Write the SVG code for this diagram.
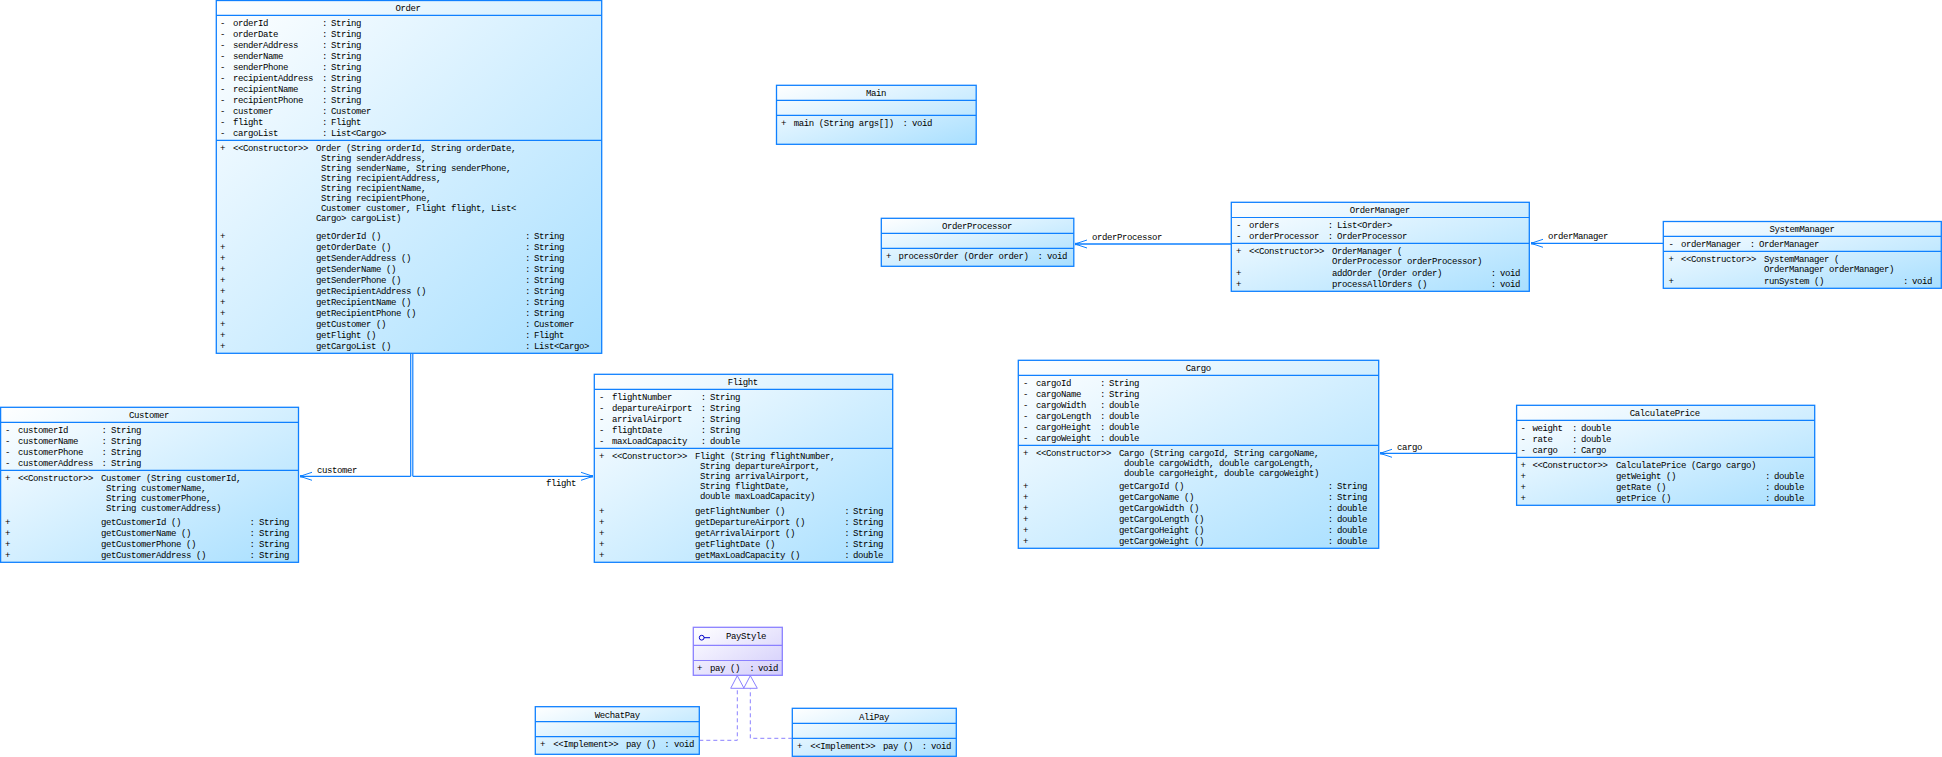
<svg xmlns="http://www.w3.org/2000/svg" width="1942" height="757" viewBox="0 0 1942 757">
<style>
.t{font-family:"Liberation Mono","DejaVu Sans Mono",monospace;font-size:9px;letter-spacing:-.4px;fill:#000;white-space:pre}
.c{text-anchor:middle}
.b{fill:url(#g);stroke:#0f80ff;stroke-width:1.3}
.d{stroke:#0f80ff;stroke-width:1.2;fill:none}
.ib{fill:url(#gi);stroke:#8a80ff;stroke-width:1.3}
.id{stroke:#8a80ff;stroke-width:1.2;fill:none}
.a{stroke:#0f80ff;stroke-width:1.3;fill:none;marker-end:url(#open)}
.r{stroke:#8a80ff;stroke-width:1;stroke-dasharray:4 3;fill:none}
.h{stroke:#8a80ff;stroke-width:1;fill:#fff}
</style>
<defs>
<linearGradient id="g" x1="0" y1="0" x2="1" y2="1"><stop offset="0" stop-color="#fff"/><stop offset="1" stop-color="#a8dfff"/></linearGradient>
<linearGradient id="gi" x1="0" y1="0" x2="1" y2="1"><stop offset="0" stop-color="#fff"/><stop offset="1" stop-color="#d2ccfb"/></linearGradient>
<marker id="open" markerUnits="userSpaceOnUse" markerWidth="16" markerHeight="12" refX="13" refY="6" orient="auto"><path d="M1,2 L13,6 L1,10" fill="none" stroke="#0f80ff" stroke-width="1"/><rect x="9.5" y="4.8" width="3.5" height="2.4" fill="#0f80ff"/></marker>
</defs>
<rect width="1942" height="757" fill="#fff"/>

<g id="connectors">
<path class="d" d="M410.7 353.5V476.3"/>
<path class="d" d="M412.8 353.5V476.3"/>
<path class="a" d="M410.7 476.3H300"/>
<path class="a" d="M412.8 476.3H593"/>
<text class="t" x="317" y="473">customer</text>
<text class="t" x="546" y="486">flight</text>
<path class="a" d="M1231.3 244H1075"/>
<text class="t" x="1092" y="240">orderProcessor</text>
<path class="a" d="M1663.3 243.3H1531"/>
<text class="t" x="1548" y="239">orderManager</text>
<path class="a" d="M1516.6 453.3H1380"/>
<text class="t" x="1397" y="450">cargo</text>
<path class="r" d="M699.3 740.3H737.3V688.3"/>
<path class="r" d="M792.3 738.3H750.3V688.3"/>
<path class="h" d="M737.3 675.7L730.7 688.3H744Z"/>
<path class="h" d="M750.3 675.7L743.7 688.3H757.3Z"/>
</g>

<g id="Order">
<rect class="b" x="216.3" y="0.5" width="385.4" height="352.8"/>
<path class="d" d="M216.3 15.3H601.7M216.3 140.3H601.7"/>
<text class="t c" x="408" y="11">Order</text>
<text class="t" y="26"><tspan x="220">-</tspan><tspan x="233">orderId</tspan><tspan x="322">:</tspan><tspan x="331">String</tspan></text>
<text class="t" y="37"><tspan x="220">-</tspan><tspan x="233">orderDate</tspan><tspan x="322">:</tspan><tspan x="331">String</tspan></text>
<text class="t" y="48"><tspan x="220">-</tspan><tspan x="233">senderAddress</tspan><tspan x="322">:</tspan><tspan x="331">String</tspan></text>
<text class="t" y="59"><tspan x="220">-</tspan><tspan x="233">senderName</tspan><tspan x="322">:</tspan><tspan x="331">String</tspan></text>
<text class="t" y="70"><tspan x="220">-</tspan><tspan x="233">senderPhone</tspan><tspan x="322">:</tspan><tspan x="331">String</tspan></text>
<text class="t" y="81"><tspan x="220">-</tspan><tspan x="233">recipientAddress</tspan><tspan x="322">:</tspan><tspan x="331">String</tspan></text>
<text class="t" y="92"><tspan x="220">-</tspan><tspan x="233">recipientName</tspan><tspan x="322">:</tspan><tspan x="331">String</tspan></text>
<text class="t" y="103"><tspan x="220">-</tspan><tspan x="233">recipientPhone</tspan><tspan x="322">:</tspan><tspan x="331">String</tspan></text>
<text class="t" y="114"><tspan x="220">-</tspan><tspan x="233">customer</tspan><tspan x="322">:</tspan><tspan x="331">Customer</tspan></text>
<text class="t" y="125"><tspan x="220">-</tspan><tspan x="233">flight</tspan><tspan x="322">:</tspan><tspan x="331">Flight</tspan></text>
<text class="t" y="136"><tspan x="220">-</tspan><tspan x="233">cargoList</tspan><tspan x="322">:</tspan><tspan x="331">List&lt;Cargo&gt;</tspan></text>
<text class="t" y="151"><tspan x="220">+</tspan><tspan x="233">&lt;&lt;Constructor&gt;&gt;</tspan><tspan x="316">Order (String orderId, String orderDate,</tspan></text>
<text class="t" x="321" y="161">String senderAddress,</text>
<text class="t" x="321" y="171">String senderName, String senderPhone,</text>
<text class="t" x="321" y="181">String recipientAddress,</text>
<text class="t" x="321" y="191">String recipientName,</text>
<text class="t" x="321" y="201">String recipientPhone,</text>
<text class="t" x="321" y="211">Customer customer, Flight flight, List&lt;</text>
<text class="t" x="316" y="221">Cargo&gt; cargoList)</text>
<text class="t" y="239"><tspan x="220">+</tspan><tspan x="316">getOrderId ()</tspan><tspan x="525">:</tspan><tspan x="534">String</tspan></text>
<text class="t" y="250"><tspan x="220">+</tspan><tspan x="316">getOrderDate ()</tspan><tspan x="525">:</tspan><tspan x="534">String</tspan></text>
<text class="t" y="261"><tspan x="220">+</tspan><tspan x="316">getSenderAddress ()</tspan><tspan x="525">:</tspan><tspan x="534">String</tspan></text>
<text class="t" y="272"><tspan x="220">+</tspan><tspan x="316">getSenderName ()</tspan><tspan x="525">:</tspan><tspan x="534">String</tspan></text>
<text class="t" y="283"><tspan x="220">+</tspan><tspan x="316">getSenderPhone ()</tspan><tspan x="525">:</tspan><tspan x="534">String</tspan></text>
<text class="t" y="294"><tspan x="220">+</tspan><tspan x="316">getRecipientAddress ()</tspan><tspan x="525">:</tspan><tspan x="534">String</tspan></text>
<text class="t" y="305"><tspan x="220">+</tspan><tspan x="316">getRecipientName ()</tspan><tspan x="525">:</tspan><tspan x="534">String</tspan></text>
<text class="t" y="316"><tspan x="220">+</tspan><tspan x="316">getRecipientPhone ()</tspan><tspan x="525">:</tspan><tspan x="534">String</tspan></text>
<text class="t" y="327"><tspan x="220">+</tspan><tspan x="316">getCustomer ()</tspan><tspan x="525">:</tspan><tspan x="534">Customer</tspan></text>
<text class="t" y="338"><tspan x="220">+</tspan><tspan x="316">getFlight ()</tspan><tspan x="525">:</tspan><tspan x="534">Flight</tspan></text>
<text class="t" y="349"><tspan x="220">+</tspan><tspan x="316">getCargoList ()</tspan><tspan x="525">:</tspan><tspan x="534">List&lt;Cargo&gt;</tspan></text>
</g>

<g id="Customer">
<rect class="b" x="0.6" y="407.3" width="297.9" height="155"/>
<path class="d" d="M0.6 422.3H298.5M0.6 470.3H298.5"/>
<text class="t c" x="149" y="418">Customer</text>
<text class="t" y="433"><tspan x="5">-</tspan><tspan x="18">customerId</tspan><tspan x="101.5">:</tspan><tspan x="111">String</tspan></text>
<text class="t" y="444"><tspan x="5">-</tspan><tspan x="18">customerName</tspan><tspan x="101.5">:</tspan><tspan x="111">String</tspan></text>
<text class="t" y="455"><tspan x="5">-</tspan><tspan x="18">customerPhone</tspan><tspan x="101.5">:</tspan><tspan x="111">String</tspan></text>
<text class="t" y="466"><tspan x="5">-</tspan><tspan x="18">customerAddress</tspan><tspan x="101.5">:</tspan><tspan x="111">String</tspan></text>
<text class="t" y="481"><tspan x="5">+</tspan><tspan x="18">&lt;&lt;Constructor&gt;&gt;</tspan><tspan x="101">Customer (String customerId,</tspan></text>
<text class="t" x="106" y="491">String customerName,</text>
<text class="t" x="106" y="501">String customerPhone,</text>
<text class="t" x="106" y="511">String customerAddress)</text>
<text class="t" y="525"><tspan x="5">+</tspan><tspan x="101">getCustomerId ()</tspan><tspan x="249.5">:</tspan><tspan x="259">String</tspan></text>
<text class="t" y="536"><tspan x="5">+</tspan><tspan x="101">getCustomerName ()</tspan><tspan x="249.5">:</tspan><tspan x="259">String</tspan></text>
<text class="t" y="547"><tspan x="5">+</tspan><tspan x="101">getCustomerPhone ()</tspan><tspan x="249.5">:</tspan><tspan x="259">String</tspan></text>
<text class="t" y="558"><tspan x="5">+</tspan><tspan x="101">getCustomerAddress ()</tspan><tspan x="249.5">:</tspan><tspan x="259">String</tspan></text>
</g>

<g id="Flight">
<rect class="b" x="594.3" y="374.3" width="298.4" height="188"/>
<path class="d" d="M594.3 389.3H892.7M594.3 448.3H892.7"/>
<text class="t c" x="742.7" y="385">Flight</text>
<text class="t" y="400"><tspan x="599">-</tspan><tspan x="612">flightNumber</tspan><tspan x="700.7">:</tspan><tspan x="710">String</tspan></text>
<text class="t" y="411"><tspan x="599">-</tspan><tspan x="612">departureAirport</tspan><tspan x="700.7">:</tspan><tspan x="710">String</tspan></text>
<text class="t" y="422"><tspan x="599">-</tspan><tspan x="612">arrivalAirport</tspan><tspan x="700.7">:</tspan><tspan x="710">String</tspan></text>
<text class="t" y="433"><tspan x="599">-</tspan><tspan x="612">flightDate</tspan><tspan x="700.7">:</tspan><tspan x="710">String</tspan></text>
<text class="t" y="444"><tspan x="599">-</tspan><tspan x="612">maxLoadCapacity</tspan><tspan x="700.7">:</tspan><tspan x="710">double</tspan></text>
<text class="t" y="459"><tspan x="599">+</tspan><tspan x="612">&lt;&lt;Constructor&gt;&gt;</tspan><tspan x="695">Flight (String flightNumber,</tspan></text>
<text class="t" x="700" y="469">String departureAirport,</text>
<text class="t" x="700" y="479">String arrivalAirport,</text>
<text class="t" x="700" y="489">String flightDate,</text>
<text class="t" x="700" y="499">double maxLoadCapacity)</text>
<text class="t" y="514"><tspan x="599">+</tspan><tspan x="695">getFlightNumber ()</tspan><tspan x="844.3">:</tspan><tspan x="853">String</tspan></text>
<text class="t" y="525"><tspan x="599">+</tspan><tspan x="695">getDepartureAirport ()</tspan><tspan x="844.3">:</tspan><tspan x="853">String</tspan></text>
<text class="t" y="536"><tspan x="599">+</tspan><tspan x="695">getArrivalAirport ()</tspan><tspan x="844.3">:</tspan><tspan x="853">String</tspan></text>
<text class="t" y="547"><tspan x="599">+</tspan><tspan x="695">getFlightDate ()</tspan><tspan x="844.3">:</tspan><tspan x="853">String</tspan></text>
<text class="t" y="558"><tspan x="599">+</tspan><tspan x="695">getMaxLoadCapacity ()</tspan><tspan x="844.3">:</tspan><tspan x="853">double</tspan></text>
</g>

<g id="Main">
<rect class="b" x="776.5" y="85.3" width="199.7" height="59"/>
<path class="d" d="M776.5 100.3H976.2M776.5 115.3H976.2"/>
<text class="t c" x="876" y="96">Main</text>
<text class="t" y="126"><tspan x="781">+</tspan><tspan x="793.7">main (String args[])</tspan><tspan x="902.5">:</tspan><tspan x="912">void</tspan></text>
</g>

<g id="OrderProcessor">
<rect class="b" x="881.3" y="218.3" width="192.5" height="48"/>
<path class="d" d="M881.3 233.3H1073.8M881.3 248.3H1073.8"/>
<text class="t c" x="977" y="229">OrderProcessor</text>
<text class="t" y="259"><tspan x="886">+</tspan><tspan x="898.5">processOrder (Order order)</tspan><tspan x="1037.5">:</tspan><tspan x="1047">void</tspan></text>
</g>

<g id="OrderManager">
<rect class="b" x="1231.3" y="202.3" width="298" height="89"/>
<path class="d" d="M1231.3 217.5H1529.3M1231.3 243.3H1529.3"/>
<text class="t c" x="1379.7" y="213">OrderManager</text>
<text class="t" y="228"><tspan x="1236">-</tspan><tspan x="1249">orders</tspan><tspan x="1327.7">:</tspan><tspan x="1337">List&lt;Order&gt;</tspan></text>
<text class="t" y="239"><tspan x="1236">-</tspan><tspan x="1249">orderProcessor</tspan><tspan x="1327.7">:</tspan><tspan x="1337">OrderProcessor</tspan></text>
<text class="t" y="254"><tspan x="1236">+</tspan><tspan x="1249">&lt;&lt;Constructor&gt;&gt;</tspan><tspan x="1332">OrderManager (</tspan></text>
<text class="t" x="1332" y="264">OrderProcessor orderProcessor)</text>
<text class="t" y="276"><tspan x="1236">+</tspan><tspan x="1332">addOrder (Order order)</tspan><tspan x="1490.7">:</tspan><tspan x="1500">void</tspan></text>
<text class="t" y="287"><tspan x="1236">+</tspan><tspan x="1332">processAllOrders ()</tspan><tspan x="1490.7">:</tspan><tspan x="1500">void</tspan></text>
</g>

<g id="SystemManager">
<rect class="b" x="1663.3" y="221.5" width="278" height="66.8"/>
<path class="d" d="M1663.3 236.3H1941.3M1663.3 251.3H1941.3"/>
<text class="t c" x="1802" y="232">SystemManager</text>
<text class="t" y="247"><tspan x="1668.5">-</tspan><tspan x="1681">orderManager</tspan><tspan x="1749.8">:</tspan><tspan x="1759">OrderManager</tspan></text>
<text class="t" y="262"><tspan x="1668.5">+</tspan><tspan x="1681">&lt;&lt;Constructor&gt;&gt;</tspan><tspan x="1764">SystemManager (</tspan></text>
<text class="t" x="1764" y="272">OrderManager orderManager)</text>
<text class="t" y="284"><tspan x="1668.5">+</tspan><tspan x="1764">runSystem ()</tspan><tspan x="1903">:</tspan><tspan x="1912">void</tspan></text>
</g>

<g id="Cargo">
<rect class="b" x="1018.3" y="360.3" width="360.4" height="188"/>
<path class="d" d="M1018.3 375.3H1378.7M1018.3 445.3H1378.7"/>
<text class="t c" x="1198.3" y="371">Cargo</text>
<text class="t" y="386"><tspan x="1023">-</tspan><tspan x="1036">cargoId</tspan><tspan x="1100">:</tspan><tspan x="1109">String</tspan></text>
<text class="t" y="397"><tspan x="1023">-</tspan><tspan x="1036">cargoName</tspan><tspan x="1100">:</tspan><tspan x="1109">String</tspan></text>
<text class="t" y="408"><tspan x="1023">-</tspan><tspan x="1036">cargoWidth</tspan><tspan x="1100">:</tspan><tspan x="1109">double</tspan></text>
<text class="t" y="419"><tspan x="1023">-</tspan><tspan x="1036">cargoLength</tspan><tspan x="1100">:</tspan><tspan x="1109">double</tspan></text>
<text class="t" y="430"><tspan x="1023">-</tspan><tspan x="1036">cargoHeight</tspan><tspan x="1100">:</tspan><tspan x="1109">double</tspan></text>
<text class="t" y="441"><tspan x="1023">-</tspan><tspan x="1036">cargoWeight</tspan><tspan x="1100">:</tspan><tspan x="1109">double</tspan></text>
<text class="t" y="456"><tspan x="1023">+</tspan><tspan x="1036">&lt;&lt;Constructor&gt;&gt;</tspan><tspan x="1119">Cargo (String cargoId, String cargoName,</tspan></text>
<text class="t" x="1124" y="466">double cargoWidth, double cargoLength,</text>
<text class="t" x="1124" y="476">double cargoHeight, double cargoWeight)</text>
<text class="t" y="489"><tspan x="1023">+</tspan><tspan x="1119">getCargoId ()</tspan><tspan x="1327.7">:</tspan><tspan x="1337">String</tspan></text>
<text class="t" y="500"><tspan x="1023">+</tspan><tspan x="1119">getCargoName ()</tspan><tspan x="1327.7">:</tspan><tspan x="1337">String</tspan></text>
<text class="t" y="511"><tspan x="1023">+</tspan><tspan x="1119">getCargoWidth ()</tspan><tspan x="1327.7">:</tspan><tspan x="1337">double</tspan></text>
<text class="t" y="522"><tspan x="1023">+</tspan><tspan x="1119">getCargoLength ()</tspan><tspan x="1327.7">:</tspan><tspan x="1337">double</tspan></text>
<text class="t" y="533"><tspan x="1023">+</tspan><tspan x="1119">getCargoHeight ()</tspan><tspan x="1327.7">:</tspan><tspan x="1337">double</tspan></text>
<text class="t" y="544"><tspan x="1023">+</tspan><tspan x="1119">getCargoWeight ()</tspan><tspan x="1327.7">:</tspan><tspan x="1337">double</tspan></text>
</g>

<g id="CalculatePrice">
<rect class="b" x="1516.6" y="405.3" width="298.1" height="100"/>
<path class="d" d="M1516.6 420.3H1814.7M1516.6 457.3H1814.7"/>
<text class="t c" x="1664.7" y="416">CalculatePrice</text>
<text class="t" y="431"><tspan x="1520.4">-</tspan><tspan x="1532.6">weight</tspan><tspan x="1572">:</tspan><tspan x="1581">double</tspan></text>
<text class="t" y="442"><tspan x="1520.4">-</tspan><tspan x="1532.6">rate</tspan><tspan x="1572">:</tspan><tspan x="1581">double</tspan></text>
<text class="t" y="453"><tspan x="1520.4">-</tspan><tspan x="1532.6">cargo</tspan><tspan x="1572">:</tspan><tspan x="1581">Cargo</tspan></text>
<text class="t" y="468"><tspan x="1520.4">+</tspan><tspan x="1532.6">&lt;&lt;Constructor&gt;&gt;</tspan><tspan x="1616">CalculatePrice (Cargo cargo)</tspan></text>
<text class="t" y="479"><tspan x="1520.4">+</tspan><tspan x="1616">getWeight ()</tspan><tspan x="1765">:</tspan><tspan x="1774">double</tspan></text>
<text class="t" y="490"><tspan x="1520.4">+</tspan><tspan x="1616">getRate ()</tspan><tspan x="1765">:</tspan><tspan x="1774">double</tspan></text>
<text class="t" y="501"><tspan x="1520.4">+</tspan><tspan x="1616">getPrice ()</tspan><tspan x="1765">:</tspan><tspan x="1774">double</tspan></text>
</g>

<g id="PayStyle">
<rect class="ib" x="693.3" y="627.3" width="89" height="48"/>
<path class="id" d="M693.3 645.3H782.3M693.3 660.5H782.3"/>
<circle cx="701.7" cy="637.7" r="2.4" fill="none" stroke="#0000c8" stroke-width="1"/>
<path d="M704 637.7H710" stroke="#0000c8" stroke-width="1" fill="none"/>
<text class="t" x="726" y="639">PayStyle</text>
<text class="t" y="671"><tspan x="697">+</tspan><tspan x="710">pay ()</tspan><tspan x="749.3">:</tspan><tspan x="758">void</tspan></text>
</g>

<g id="WechatPay">
<rect class="b" x="535.3" y="706.7" width="164" height="47.6"/>
<path class="d" d="M535.3 721.7H699.3M535.3 736.7H699.3"/>
<text class="t c" x="617.3" y="718">WechatPay</text>
<text class="t" y="747"><tspan x="540">+</tspan><tspan x="553.3">&lt;&lt;Implement&gt;&gt;</tspan><tspan x="626">pay ()</tspan><tspan x="664.3">:</tspan><tspan x="674">void</tspan></text>
</g>

<g id="AliPay">
<rect class="b" x="792.3" y="708.3" width="164" height="48"/>
<path class="d" d="M792.3 723.3H956.3M792.3 738.3H956.3"/>
<text class="t c" x="874" y="720">AliPay</text>
<text class="t" y="749"><tspan x="797">+</tspan><tspan x="810.3">&lt;&lt;Implement&gt;&gt;</tspan><tspan x="883">pay ()</tspan><tspan x="921.7">:</tspan><tspan x="931">void</tspan></text>
</g>
</svg>
